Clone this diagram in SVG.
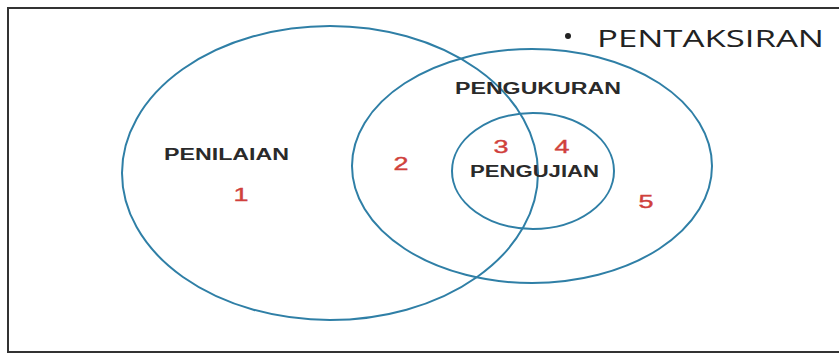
<svg xmlns="http://www.w3.org/2000/svg" width="839" height="356" viewBox="0 0 839 356">
<style>
.c{fill:none;stroke:#2f7fa6;stroke-width:2}
.lb{font-family:"Liberation Sans",Arial,sans-serif;font-weight:bold;font-size:16px;fill:#2a2a2a}
.n{font-family:"Liberation Sans",Arial,sans-serif;font-size:19px;fill:#d0403c;text-anchor:middle;stroke:#d0403c;stroke-width:0.4}
.t{font-family:"Open Sans","Liberation Sans",sans-serif;font-size:24px;fill:#222}
</style>
<rect width="839" height="356" fill="#fff"/>
<path d="M845 8 H8 V352 H845" fill="none" stroke="#333" stroke-width="2"/>
<g id="penilaian">
<ellipse class="c" cx="330" cy="173" rx="208" ry="147"/>
<text class="lb" x="164" y="160" textLength="125" lengthAdjust="spacingAndGlyphs">PENILAIAN</text>
</g>
<g id="pengukuran">
<ellipse class="c" cx="532" cy="166" rx="180" ry="117"/>
<text class="lb" x="455" y="94" textLength="166" lengthAdjust="spacingAndGlyphs">PENGUKURAN</text>
</g>
<g id="pengujian">
<ellipse class="c" cx="533" cy="171" rx="81" ry="58"/>
<text class="lb" x="470" y="177" textLength="129" lengthAdjust="spacingAndGlyphs">PENGUJIAN</text>
</g>
<g id="numbers">
<text class="n" x="241" y="201" textLength="15" lengthAdjust="spacingAndGlyphs">1</text>
<text class="n" x="401" y="170" textLength="15" lengthAdjust="spacingAndGlyphs">2</text>
<text class="n" x="501" y="153" textLength="15" lengthAdjust="spacingAndGlyphs">3</text>
<text class="n" x="562" y="153" textLength="15" lengthAdjust="spacingAndGlyphs">4</text>
<text class="n" x="646" y="208" textLength="15" lengthAdjust="spacingAndGlyphs">5</text>
</g>
<g id="title">
<circle cx="568" cy="36" r="3" fill="#222"/>
<text class="t" x="597" y="47" textLength="227" lengthAdjust="spacingAndGlyphs">PENTAKSIRAN</text>
</g>
</svg>
